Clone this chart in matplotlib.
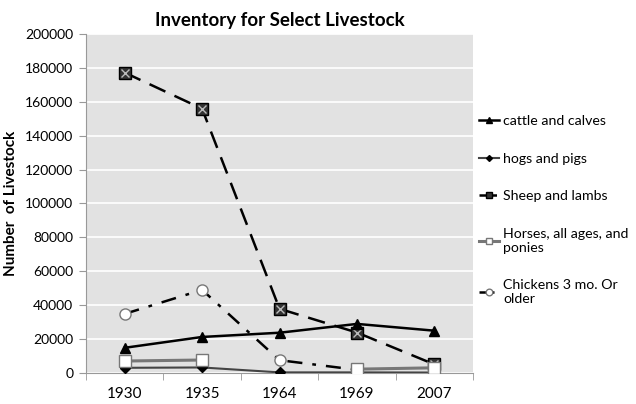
import matplotlib
matplotlib.use("Agg")
import matplotlib.pyplot as plt
import numpy as np

plt.rcParams['font.family'] = ['Lato', 'DejaVu Sans']

years = ["1930", "1935", "1964", "1969", "2007"]
cattle = [14800, 21200, 23700, 28900, 24900]
hogs = [3000, 3200, 300, 300, 200]
sheep = [177200, 155900, 37800, 23800, 5000]
horses = [7000, 7600, np.nan, 2200, 3000]
chickens = [34800, 49000, 7500, 1800, np.nan]

x = np.arange(len(years))

fig = plt.figure(figsize=(6.36, 4.04), dpi=100)
ax = fig.add_axes([0.135, 0.077, 0.609, 0.839])
ax.set_facecolor('#e2e2e2')

ax.plot(x, hogs, color='#444444', lw=1.5, marker='D', ms=5,
        mfc='black', mec='black', label="hogs and pigs", zorder=3)
ax.plot(x, chickens, color='black', lw=1.8, ls=(0, (6, 4, 1.5, 4)), marker='o', ms=8,
        mfc='white', mec='#777777', mew=1, label="Chickens 3 mo. Or\nolder", zorder=4)
ax.plot(x, sheep, color='black', lw=1.8, ls=(0, (7, 4)), marker='s', ms=8,
        mfc='#333333', mec='black', label="Sheep and lambs", zorder=4)
ax.plot(x, sheep, ls='none', marker='x', ms=6, mec='#bbbbbb', mew=1, zorder=4.2)
ax.plot(x, horses, color='#777777', lw=2.2, marker='s', ms=8,
        mfc='white', mec='#777777', mew=1, label="Horses, all ages, and\nponies", zorder=4.5)
ax.plot(x, cattle, color='black', lw=1.8, marker='^', ms=7,
        mfc='black', mec='black', label="cattle and calves", zorder=5)

ax.set_xlim(-0.5, len(years) - 0.5)
ax.set_ylim(0, 200000)
ax.set_yticks(np.arange(0, 200001, 20000))
ax.set_xticks(x)
ax.set_xticklabels(years, fontsize=11)
ax.set_xticks(np.arange(-0.5, len(years), 1), minor=True)
ax.tick_params(axis='x', which='major', length=0, pad=10)
ax.tick_params(axis='x', which='minor', length=5, color='#999999')
ax.tick_params(axis='y', labelsize=10, length=5, color='#999999', pad=4)

ax.grid(axis='y', color='white', lw=1.2)
ax.set_axisbelow(True)
for s in ['top', 'right']:
    ax.spines[s].set_visible(False)
ax.spines['left'].set_color('#999999')
ax.spines['bottom'].set_color('#999999')

ax.set_title("Inventory for Select Livestock", fontsize=13.5, fontweight='bold', pad=6)
ax.set_ylabel("Number  of Livestock", fontsize=11, fontweight='bold', labelpad=5)

h, l = ax.get_legend_handles_labels()
order = [l.index(n) for n in ["cattle and calves", "hogs and pigs", "Sheep and lambs",
                               "Horses, all ages, and\nponies", "Chickens 3 mo. Or\nolder"]]
ax.legend([h[i] for i in order], [l[i] for i in order], loc='upper left',
          bbox_to_anchor=(0.99, 0.79), frameon=False, fontsize=10.2,
          handlelength=1.4, markerscale=0.6, labelspacing=1.8, handletextpad=0.3,
          borderaxespad=0.3)

fig.savefig("out.png", dpi=100)
